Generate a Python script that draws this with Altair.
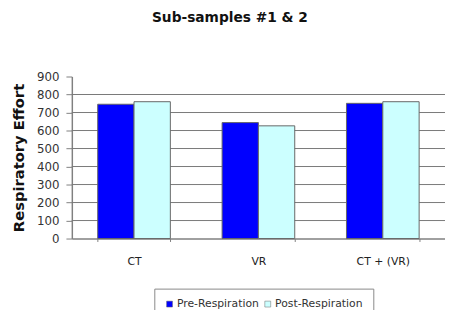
import altair as alt
import pandas as pd

categories = ["CT", "VR", "CT + (VR)"]
series = ["Pre-Respiration", "Post-Respiration"]
pre_values = [746, 644, 751]
post_values = [760, 626, 760]
colors = ["#0000FF", "#CCFFFF"]
y_ticks = [0, 100, 200, 300, 400, 500, 600, 700, 800, 900]
grid_values = [100, 200, 300, 400, 500, 600, 700, 800]

rows = []
for c, p, q in zip(categories, pre_values, post_values):
    rows.append({"cat": c, "series": series[0], "value": p})
    rows.append({"cat": c, "series": series[1], "value": q})
df = pd.DataFrame(rows)
grid_df = pd.DataFrame({"value": grid_values})

FONT = "DejaVu Sans"

yscale = alt.Scale(domain=[0, 900], nice=False)
yaxis = alt.Axis(
    values=y_ticks,
    grid=False,
    title="Respiratory Effort",
    titleFont=FONT,
    titleFontSize=15,
    titleFontWeight="bold",
    titleColor="#111111",
    titleX=-54,
    titleY=82.5,
    titleAngle=270,
    titleBaseline="middle",
    titleAlign="center",
    labelFont=FONT,
    labelFontSize=12,
    labelColor="#333333",
    labelPadding=7,
    tickSize=6,
    tickColor="#808080",
    domainColor="#808080",
    domainWidth=1.5,
)

grid = alt.Chart(grid_df).mark_rule(color="#777777", strokeWidth=1).encode(
    y=alt.Y("value:Q", scale=yscale, axis=yaxis, title="Respiratory Effort")
)

bars = alt.Chart(df).mark_bar(stroke="#666666", strokeWidth=1).encode(
    x=alt.X(
        "cat:N",
        sort=categories,
        title=None,
        scale=alt.Scale(paddingInner=0.416, paddingOuter=0.208),
        axis=alt.Axis(
            labelAngle=0,
            labelFont=FONT,
            labelFontSize=11,
            labelColor="#222222",
            labelPadding=14,
            tickSize=3,
            tickBand="extent",
            tickColor="#808080",
            domainColor="#808080",
            domainWidth=1.5,
        ),
    ),
    xOffset=alt.XOffset("series:N", sort=series),
    y=alt.Y("value:Q", scale=yscale, axis=yaxis, title="Respiratory Effort"),
    color=alt.Color(
        "series:N",
        sort=series,
        scale=alt.Scale(domain=series, range=colors),
        legend=alt.Legend(
            title=None,
            orient="none",
            legendX=84,
            legendY=216,
            direction="horizontal",
            padding=10,
            strokeColor="#888888",
            fillColor="#FFFFFF",
            symbolType="square",
            symbolSize=36,
            symbolStrokeColor="#666666",
            symbolStrokeWidth=0.5,
            labelFont=FONT,
            labelFontSize=11,
            labelColor="#333333",
            labelOffset=2,
            columnPadding=3,
        ),
    ),
)

chart = (
    alt.layer(grid, bars)
    .properties(
        width=380,
        height=165,
        padding={"left": 65, "top": 67, "right": 0, "bottom": 70},
        autosize=alt.AutoSizeParams(type="none"),
        title=alt.TitleParams(
            "Sub-samples #1 & 2",
            font=FONT,
            fontSize=14,
            fontWeight="bold",
            color="#111111",
            anchor="middle",
            frame="group",
            dx=-29,
            baseline="alphabetic",
            offset=35,
        ),
    )
    .configure_view(stroke=None)
)

chart.save("out.html", embed_options={"renderer": "svg", "actions": False})
